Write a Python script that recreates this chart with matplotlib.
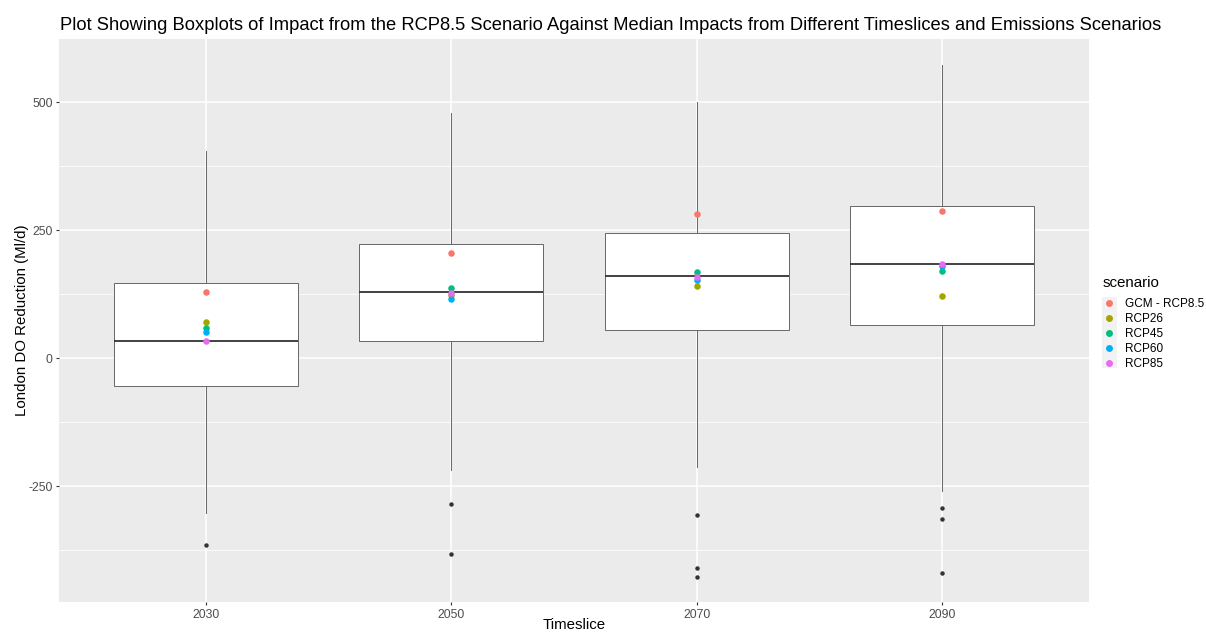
import matplotlib
matplotlib.use("Agg")
import matplotlib.pyplot as plt
from matplotlib.lines import Line2D
from matplotlib.patches import Rectangle
import numpy as np

plt.rcParams['font.family'] = ['Liberation Sans', 'DejaVu Sans']
plt.rcParams['axes.unicode_minus'] = False

# ---- data ----
timeslices = ["2030", "2050", "2070", "2090"]
whisker_low = [-303, -218, -213, -260]
q1 = [-54, 33, 55, 65]
median = [34, 129, 160, 184]
q3 = [148, 224, 245, 297]
whisker_high = [405, 480, 500, 572]
outliers = [[-364], [-284, -382], [-306, -409, -427], [-293, -314, -420]]

scenarios = ["GCM - RCP8.5", "RCP26", "RCP45", "RCP60", "RCP85"]
scenario_colors = ["#F8766D", "#A3A500", "#00BF7D", "#00B0F6", "#E76BF3"]
scenario_medians = {
    "GCM - RCP8.5": [129, 206, 281, 288],
    "RCP26": [70, 124, 141, 121],
    "RCP45": [59, 137, 169, 171],
    "RCP60": [51, 115, 153, 180],
    "RCP85": [33, 128, 159, 184],
}
title_text = ("Plot Showing Boxplots of Impact from the RCP8.5 Scenario Against "
              "Median Impacts from Different Timeslices and Emissions Scenarios")

W, H = 1206, 632
fig = plt.figure(figsize=(W / 100, H / 100), dpi=100)
ax = fig.add_axes([59 / W, (H - 602.3) / H, 1030 / W, (602.3 - 39) / H])
ax.set_facecolor("#EBEBEB")

pos = np.arange(1, len(timeslices) + 1)
stats = []
for i in range(len(timeslices)):
    stats.append(dict(med=median[i], q1=q1[i], q3=q3[i],
                      whislo=whisker_low[i], whishi=whisker_high[i],
                      fliers=outliers[i]))
ax.bxp(stats, positions=pos, widths=0.75, patch_artist=True, showcaps=False,
       boxprops=dict(facecolor="white", edgecolor="#666666", linewidth=0.7),
       medianprops=dict(color="#333333", linewidth=1.3),
       whiskerprops=dict(color="#666666", linewidth=0.7),
       flierprops=dict(marker="o", markerfacecolor="#333333", markeredgecolor="#333333",
                       markersize=2.2, linestyle="none"),
       zorder=2)

for s, c in zip(scenarios, scenario_colors):
    ax.scatter(pos, scenario_medians[s], s=22, color=c, zorder=4, linewidths=0)

ax.set_xlim(0.4, len(timeslices) + 0.6)
ax.set_ylim(-476.6, 623.6)
ax.set_xticks(pos)
ax.set_xticklabels(timeslices)
ax.set_yticks([-250, 0, 250, 500])
ax.set_yticks([-375, -125, 125, 375], minor=True)
ax.grid(True, which="major", color="white", linewidth=1.1)
ax.grid(True, which="minor", axis="y", color="white", linewidth=0.55)
ax.set_axisbelow(True)
for sp in ax.spines.values():
    sp.set_visible(False)
ax.tick_params(axis="both", which="major", labelcolor="#4D4D4D", labelsize=8.8,
               length=2.5, width=0.8, color="#333333", pad=2)
ax.tick_params(axis="both", which="minor", length=0)

ax.set_xlabel("Timeslice", fontsize=10.8)
ax.xaxis.set_label_coords(0.5, -(618 - 602.3) / (602.3 - 39))
ax.xaxis.label.set_va("top")
ax.set_ylabel("London DO Reduction (Ml/d)", fontsize=10.8)
ax.yaxis.set_label_coords(-(59 - 22) / 1030, 0.5)
ax.yaxis.label.set_va("center")

# title fitted to the reference width
t = fig.text(60 / W, 1 - 25 / H, title_text, fontsize=13, ha="left", va="center")
fig.canvas.draw()
bb = t.get_window_extent()
t.set_fontsize(13 * 1097 / bb.width)

# legend
fig.patches.append(Rectangle((1102 / W, 1 - 368 / H), 15 / W, 71 / H,
                             transform=fig.transFigure, facecolor="#F2F2F2",
                             edgecolor="none", zorder=0))
handles = [Line2D([0], [0], marker="o", linestyle="none", markersize=5,
                  markerfacecolor=c, markeredgewidth=0) for c in scenario_colors]
leg = fig.legend(handles, scenarios, title="scenario", loc="upper left",
                 bbox_to_anchor=(1103 / W, 1 - 276 / H), frameon=False, fontsize=8.5,
                 title_fontsize=10.9, handlelength=1.0, handletextpad=0.86,
                 labelspacing=0.27, borderpad=0, borderaxespad=0)
leg._legend_box.align = "left"
leg._legend_box.sep = 5.5

fig.savefig("out.png", dpi=100)
